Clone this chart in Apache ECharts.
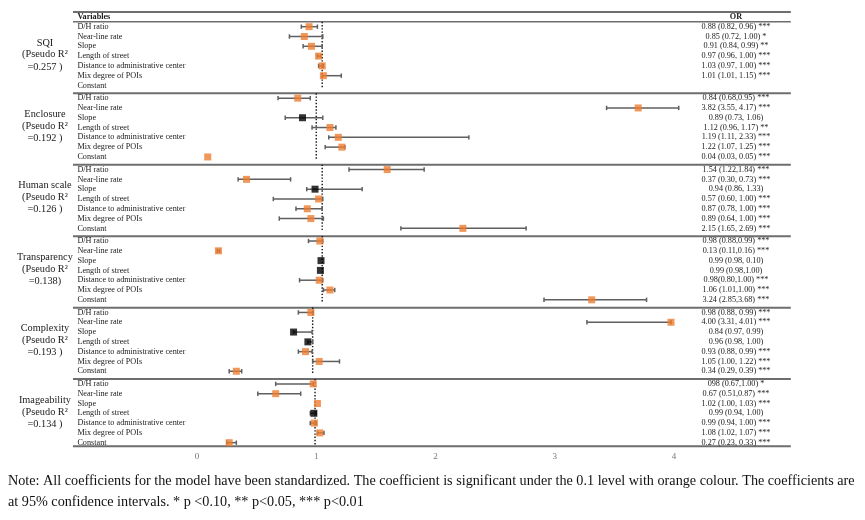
<!DOCTYPE html>
<html><head><meta charset="utf-8">
<script src="https://cdn.jsdelivr.net/npm/echarts@6/dist/echarts.min.js"></script>
<style>html,body{margin:0;padding:0;background:#fff}#c{width:865px;height:520px}</style>
</head><body><div id="c"></div>
<script>
// ---------------- DATA ----------------
const groups = ['SQI', 'Enclosure', 'Human scale', 'Transparency', 'Complexity', 'Imageability'];
const pseudoR2 = ['=0.257 )', '=0.192 )', '=0.126 )', '=0.138)', '=0.193 )', '=0.134 )'];
const variables = ['D/H ratio', 'Near-line rate', 'Slope', 'Length of street',
  'Distance to administrative center', 'Mix degree of POIs', 'Constant'];
const xTicks = [0, 1, 2, 3, 4];
// reference (dotted) line per panel, as drawn
const refLine = [1.05, 1.00, 1.05, 1.05, 0.97, 0.99];
// point estimates as drawn (rows follow `variables`)
const estimates = [
  [0.94, 0.90, 0.96, 1.02, 1.05, 1.06, null],
  [0.845, 3.70, 0.885, 1.115, 1.185, 1.215, 0.09],
  [1.595, 0.415, 0.99, 1.02, 0.925, 0.955, 2.23],
  [1.03, 0.18, 1.04, 1.035, 1.025, 1.115, 3.31],
  [0.955, 3.975, 0.81, 0.93, 0.91, 1.025, 0.33],
  [0.975, 0.66, 1.01, 0.98, 0.985, 1.03, 0.27]
];
const ciLower = [
  [0.875, 0.775, 0.89, 1.01, 1.02, 1.05, null],
  [0.68, 3.435, 0.74, 0.965, 1.105, 1.075, 0.09],
  [1.275, 0.345, 0.92, 0.64, 0.83, 0.69, 1.71],
  [0.935, 0.17, 1.04, 1.035, 0.86, 1.06, 2.91],
  [0.85, 3.27, 0.81, 0.93, 0.85, 0.97, 0.27],
  [0.66, 0.51, 1.01, 0.95, 0.95, 1.01, 0.25]
];
const ciUpper = [
  [1.01, 1.055, 1.05, 1.04, 1.06, 1.21, null],
  [0.95, 4.04, 1.055, 1.165, 2.28, 1.24, 0.09],
  [1.905, 0.785, 1.385, 1.055, 1.05, 1.06, 2.76],
  [1.055, 0.19, 1.04, 1.035, 1.055, 1.155, 3.77],
  [0.975, 3.975, 0.965, 0.97, 0.965, 1.195, 0.375],
  [0.975, 0.87, 1.01, 1.0, 1.0, 1.065, 0.33]
];
const significant = [
  [1, 1, 1, 1, 1, 1, null],
  [1, 1, 0, 1, 1, 1, 1],
  [1, 1, 0, 1, 1, 1, 1],
  [1, 1, 0, 0, 1, 1, 1],
  [1, 1, 0, 0, 1, 1, 1],
  [1, 1, 1, 0, 1, 1, 1]
];
const orLabels = [
  ['0.88 (0.82, 0.96) ***', '0.85 (0.72, 1.00) *', '0.91 (0.84, 0.99) **', '0.97 (0.96, 1.00) ***', '1.03 (0.97, 1.00) ***', '1.01 (1.01, 1.15) ***', ''],
  ['0.84 (0.68,0.95) ***', '3.82 (3.55, 4.17) ***', '0.89 (0.73, 1.06)', '1.12 (0.96, 1.17) **', '1.19 (1.11, 2.33) ***', '1.22 (1.07, 1.25) ***', '0.04 (0.03, 0.05) ***'],
  ['1.54 (1.22,1.84) ***', '0.37 (0.30, 0.73) ***', '0.94 (0.86, 1.33)', '0.57 (0.60, 1.00) ***', '0.87 (0.78, 1.00) ***', '0.89 (0.64, 1.00) ***', '2.15 (1.65, 2.69) ***'],
  ['0.98 (0.88,0.99) ***', '0.13 (0.11,0.16) ***', '0.99 (0.98, 0.10)', '0.99 (0.98,1.00)', '0.98(0.80,1.00) ***', '1.06 (1.01,1.00) ***', '3.24 (2.85,3.68) ***'],
  ['0.98 (0.88, 0.99) ***', '4.00 (3.31, 4.01) ***', '0.84 (0.97, 0.99)', '0.96 (0.98, 1.00)', '0.93 (0.88, 0.99) ***', '1.05 (1.00, 1.22) ***', '0.34 (0.29, 0.39) ***'],
  ['098 (0.67,1.00) *', '0.67 (0.51,0.87) ***', '1.02 (1.00, 1.03) ***', '0.99 (0.94, 1.00)', '0.99 (0.94, 1.00) ***', '1.08 (1.02, 1.07) ***', '0.27 (0.23, 0.33) ***']
];
const noteLines = [
  'Note: All coefficients for the model have been standardized. The coefficient is significant under the 0.1 level with orange colour. The coefficients are',
  'at 95% confidence intervals. * p <0.10, ** p<0.05, *** p<0.01'
];

// ---------------- LAYOUT ----------------
const X_MIN = -1.652, X_MAX = 5.602;
const Y_MIN = -2.724, Y_MAX = 42.89;
const SECTION_PITCH = 7.29;
const TABLE_LEFT = -1.04, TABLE_RIGHT = 4.98;
const LABEL_X = -1.003, GROUP_X = -1.275, OR_X = 4.52;
const rowY = (k, r) => k * SECTION_PITCH + r;
const SERIF = '"Liberation Serif", "Times New Roman", serif';
const ORANGE = '#ED7D31';

const ciData = [], ptData = [], refData = [];
groups.forEach((g, k) => {
  variables.forEach((v, r) => {
    const e = estimates[k][r];
    if (e == null) return;
    ciData.push([ciLower[k][r], ciUpper[k][r], rowY(k, r)]);
    ptData.push({ value: [e, rowY(k, r)], itemStyle: { color: significant[k][r] ? ORANGE : '#000' } });
  });
  refData.push([refLine[k], rowY(k, 0) - 0.5, rowY(k, 6) + 0.35]);
});

// table rule lines [u, width]
const rules = [[-1.5, 2], [-0.51, 1.6]];
for (let k = 0; k < groups.length - 1; k++) rules.push([6.8 + k * SECTION_PITCH, 2]);
rules.push([42.82, 2]);

// text items
const texts = [];
texts.push({ x: LABEL_X, y: -1.0, text: 'Variables', font: 'bold 8.2px ' + SERIF, align: 'left' });
texts.push({ x: OR_X, y: -1.0, text: 'OR', font: 'bold 8.2px ' + SERIF, align: 'center' });
groups.forEach((g, k) => {
  const c = rowY(k, 3) - 0.15;
  texts.push({ x: GROUP_X, y: c - 1.2, text: g, font: '10.3px ' + SERIF, align: 'center' });
  texts.push({ x: GROUP_X, y: c, text: '(Pseudo R²', font: '10.3px ' + SERIF, align: 'center' });
  texts.push({ x: GROUP_X, y: c + 1.25, text: pseudoR2[k], font: '10.3px ' + SERIF, align: 'center' });
  variables.forEach((v, r) => {
    texts.push({ x: LABEL_X, y: rowY(k, r), text: v, font: '8.2px ' + SERIF, align: 'left' });
    if (orLabels[k][r]) texts.push({ x: OR_X, y: rowY(k, r), text: orLabels[k][r], font: '8.2px ' + SERIF, align: 'center' });
  });
});

const chart = echarts.init(document.getElementById('c'), null, { renderer: 'canvas' });
chart.setOption({
  animation: false,
  backgroundColor: '#fff',
  grid: { left: 0, right: 0, top: 0, bottom: 73 },
  xAxis: {
    type: 'value', min: X_MIN, max: X_MAX,
    axisLine: { show: false }, axisTick: { show: false }, splitLine: { show: false },
    axisLabel: { customValues: xTicks, color: '#777', fontSize: 9, margin: 5, fontFamily: SERIF }
  },
  yAxis: { type: 'value', inverse: true, min: Y_MIN, max: Y_MAX, show: false, splitLine: { show: false } },
  series: [
    {
      type: 'custom', silent: true, clip: false, z: 1,
      data: rules.map(d => [TABLE_LEFT, d[0], TABLE_RIGHT, d[1]]),
      encode: { x: [0, 2], y: 1 },
      renderItem: (p, api) => {
        const a = api.coord([api.value(0), api.value(1)]);
        const b = api.coord([api.value(2), api.value(1)]);
        return { type: 'line', shape: { x1: a[0], y1: a[1], x2: b[0], y2: b[1] }, style: { stroke: '#6e6e6e', lineWidth: api.value(3) } };
      }
    },
    {
      type: 'custom', silent: true, clip: false, z: 2,
      data: refData, encode: { x: 0, y: [1, 2] },
      renderItem: (p, api) => {
        const a = api.coord([api.value(0), api.value(1)]);
        const b = api.coord([api.value(0), api.value(2)]);
        return { type: 'line', shape: { x1: a[0], y1: a[1], x2: b[0], y2: b[1] }, style: { stroke: '#111', lineWidth: 1.4, lineDash: [1.4, 1.8] } };
      }
    },
    {
      type: 'custom', silent: true, clip: false, z: 3,
      data: ciData, encode: { x: [0, 1], y: 2 },
      renderItem: (p, api) => {
        const lo = api.value(0), hi = api.value(1), u = api.value(2);
        if (hi - lo < 0.005) return null;
        const a = api.coord([lo, u]), b = api.coord([hi, u]);
        const st = { stroke: '#5f5f5f', lineWidth: 1.5 };
        return { type: 'group', children: [
          { type: 'line', shape: { x1: a[0], y1: a[1], x2: b[0], y2: b[1] }, style: st },
          { type: 'line', shape: { x1: a[0], y1: a[1] - 2.2, x2: a[0], y2: a[1] + 2.2 }, style: st },
          { type: 'line', shape: { x1: b[0], y1: b[1] - 2.2, x2: b[0], y2: b[1] + 2.2 }, style: st }
        ] };
      }
    },
    {
      type: 'scatter', silent: true, z: 4, symbol: 'rect', symbolSize: 7,
      data: ptData
    },
    {
      type: 'custom', silent: true, clip: false, z: 5,
      data: texts.map(t => [t.x, t.y]), encode: { x: 0, y: 1 },
      renderItem: (p, api) => {
        const t = texts[p.dataIndex];
        const c = api.coord([t.x, t.y]);
        return { type: 'text', x: c[0], y: c[1], style: { text: t.text, fill: '#1a1a1a', font: t.font, align: t.align, verticalAlign: 'middle' } };
      }
    }
  ],
  graphic: noteLines.map((s, i) => ({
    type: 'text', left: 8, top: 474 + i * 21,
    style: { text: s, fill: '#111', font: '14.2px ' + SERIF }
  }))
});
</script>
</body></html>
